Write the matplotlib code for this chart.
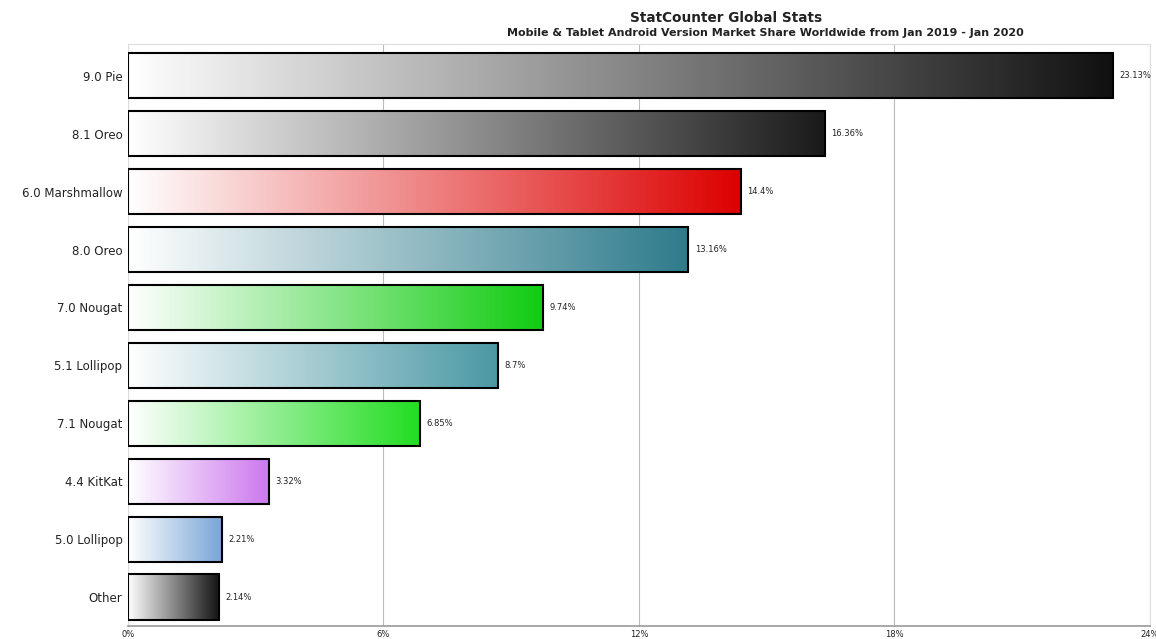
import numpy as np
import matplotlib.pyplot as plt
from matplotlib.colors import LinearSegmentedColormap
from matplotlib.patches import Rectangle

# Android versions and market share (%)
versions = ['9.0 Pie', '8.1 Oreo', '6.0 Marshmallow', '8.0 Oreo', '7.0 Nougat',
            '5.1 Lollipop', '7.1 Nougat', '4.4 KitKat', '5.0 Lollipop', 'Other']
shares = [23.13, 16.36, 14.4, 13.16, 9.74, 8.7, 6.85, 3.32, 2.21, 2.14]
share_labels = ['23.13%', '16.36%', '14.4%', '13.16%', '9.74%',
                '8.7%', '6.85%', '3.32%', '2.21%', '2.14%']
bar_colors = ['#111111', '#1a1a1a', '#dd0000', '#2e7b8c', '#11cc11',
              '#4a98a4', '#22dd22', '#cc77ee', '#78a4d8', '#111111']
x_ticks = [0, 6, 12, 18, 24]

fig = plt.figure(figsize=(11.56, 6.39), dpi=100)
ax = fig.add_axes([0.1107, 0.0203, 0.884, 0.911])

bar_h = 0.78
gradient = np.linspace(0, 1, 256).reshape(1, -1)
for i, (v, c) in enumerate(zip(shares, bar_colors)):
    cmap = LinearSegmentedColormap.from_list('g%d' % i, ['#ffffff', c])
    ax.imshow(gradient, cmap=cmap, aspect='auto', zorder=2,
              extent=(0, v, i + bar_h / 2, i - bar_h / 2))
    ax.add_patch(Rectangle((0, i - bar_h / 2), v, bar_h, fill=False,
                           edgecolor='black', linewidth=1.5, zorder=3))
    ax.text(v + 0.15, i, share_labels[i], va='center', ha='left',
            fontsize=6, color='#222222')

ax.set_xlim(0, 24)
ax.set_ylim(len(versions) - 0.5, -0.55)
ax.set_yticks(range(len(versions)))
ax.set_yticklabels(versions, fontsize=8.5, color='#222222')
ax.set_xticks(x_ticks)
ax.set_xticklabels([f'{t}%' for t in x_ticks], fontsize=6, color='#222222')
ax.tick_params(length=0, pad=4)
ax.tick_params(axis='x', pad=3)
ax.grid(axis='x', color='#bbbbbb', linewidth=0.8, zorder=0)
ax.set_axisbelow(True)
for s in ['top', 'left', 'right']:
    ax.spines[s].set_color('#dddddd')
ax.spines['bottom'].set_color('#999999')
ax.spines['bottom'].set_linewidth(1.2)

fig.text(0.628, 0.972, 'StatCounter Global Stats', ha='center', va='center',
         fontsize=9.8, fontweight='bold', color='#222222')
fig.text(0.662, 0.948,
         'Mobile & Tablet Android Version Market Share Worldwide from Jan 2019 - Jan 2020',
         ha='center', va='center', fontsize=8, fontweight='bold', color='#222222')

fig.savefig('out.png', dpi=100)
